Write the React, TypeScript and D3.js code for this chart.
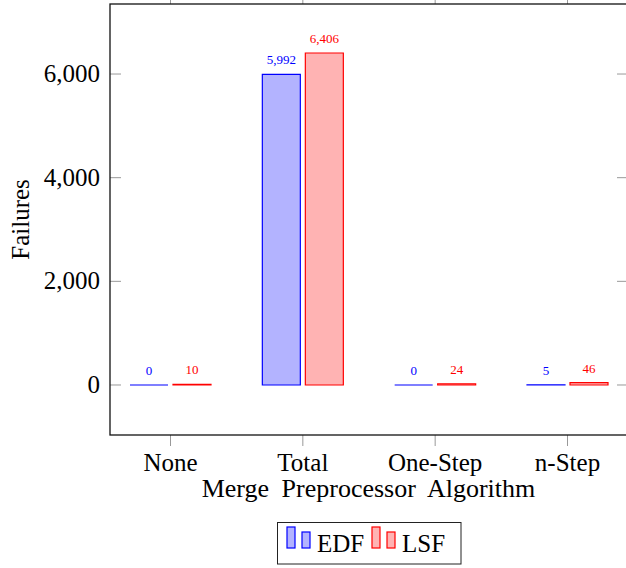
import React from "react";
import * as d3 from "d3";

const categories = ["None", "Total", "One-Step", "n-Step"];
const edfValues = [0, 5992, 0, 5];
const lsfValues = [10, 6406, 24, 46];
const yTicks = [0, 2000, 4000, 6000];
const seriesNames = ["EDF", "LSF"];

const W = 626;
const H = 568;
const FONT = "'Liberation Serif', 'Times New Roman', serif";

export default function App() {
  const left = 110, right = 628, top = 4, bottom = 435;
  const x = d3.scaleLinear().domain([0, categories.length - 1]).range([170.5, 567.5]);
  const y = d3.scaleLinear().domain([-965, 7351]).range([bottom, top]);
  const barW = 38;
  const off = 21.5;
  const fmt = d3.format(",");
  const series = [
    { name: seriesNames[0], values: edfValues, stroke: "#0000ff", fill: "#b3b3ff", dx: -off },
    { name: seriesNames[1], values: lsfValues, stroke: "#ff0000", fill: "#ffb3b3", dx: off },
  ];
  const tickColor = "#999";
  return (
    <svg width={W} height={H} style={{ position: "absolute", left: 0, top: 0, background: "#fff" }} fontFamily={FONT}>
      {/* bars */}
      {series.map((s) =>
        s.values.map((v, i) => {
          const cx = x(i) + s.dx;
          const yTop = y(v);
          const y0 = y(0);
          const x0 = cx - barW / 2;
          const d = `M${x0},${y0}H${x0 + barW}V${yTop}H${x0}Z`;
          return (
            <g key={s.name + i}>
              <path d={d} fill={s.fill} stroke={s.stroke} strokeWidth={1.2} />
              <text x={cx} y={yTop - 10} textAnchor="middle" fontSize={13} fill={s.stroke}>{fmt(v)}</text>
            </g>
          );
        })
      )}
      {/* y ticks */}
      {yTicks.map((t) => (
        <g key={t}>
          <line x1={left} x2={left + 11} y1={y(t)} y2={y(t)} stroke={tickColor} strokeWidth={1} />
          <line x1={right - 11} x2={right} y1={y(t)} y2={y(t)} stroke={tickColor} strokeWidth={1} />
          <text x={left - 10} y={y(t) + 8} textAnchor="end" fontSize={25} fill="#000">{fmt(t)}</text>
        </g>
      ))}
      {/* x ticks */}
      {categories.map((c, i) => (
        <g key={c}>
          <line x1={x(i)} x2={x(i)} y1={bottom} y2={bottom + 11} stroke={tickColor} strokeWidth={1} />
          <line x1={x(i)} x2={x(i)} y1={top} y2={top - 11} stroke={tickColor} strokeWidth={1} />
          <text x={x(i)} y={471} textAnchor="middle" fontSize={25} fill="#000">{c}</text>
        </g>
      ))}
      {/* frame */}
      <rect x={left} y={top} width={right - left} height={bottom - top} fill="none" stroke="#111" strokeWidth={1.3} />
      {/* axis labels */}
      <text x={368.5} y={497} textAnchor="middle" fontSize={26} wordSpacing={6} fill="#000">Merge Preprocessor Algorithm</text>
      <text transform={`translate(29, ${(top + bottom) / 2}) rotate(-90)`} textAnchor="middle" fontSize={25} fill="#000">Failures</text>
      {/* legend */}
      <rect x={277.5} y={522.5} width={183.5} height={41.5} fill="#fff" stroke="#222" strokeWidth={1} />
      {series.map((s, k) => {
        const bx = k === 0 ? 287 : 372;
        return (
          <g key={s.name}>
            <rect x={bx} y={527} width={8} height={21} fill={s.fill} stroke={s.stroke} strokeWidth={1.2} />
            <rect x={bx + 15} y={532} width={8} height={16} fill={s.fill} stroke={s.stroke} strokeWidth={1.2} />
            <text x={bx + 30} y={552} fontSize={25} fill="#000">{s.name}</text>
          </g>
        );
      })}
    </svg>
  );
}
